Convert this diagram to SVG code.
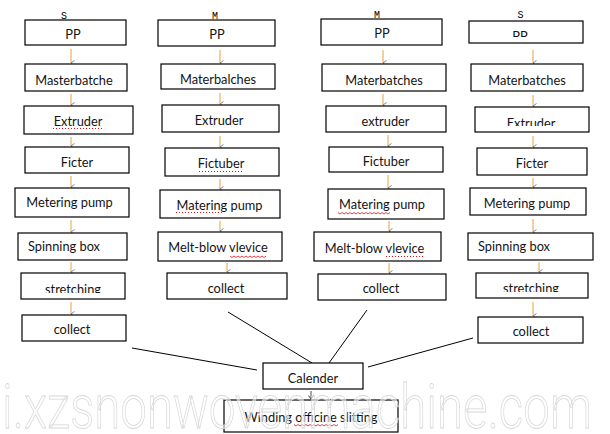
<svg xmlns="http://www.w3.org/2000/svg" width="610" height="434" viewBox="0 0 610 434">
<style>
.box{fill:#fff;stroke:#000;stroke-width:1.2}
.t{font-family:Lato,"Liberation Sans",sans-serif;font-size:12.8px;fill:#141414;text-anchor:middle}
.lab{font-family:"Liberation Mono",monospace;font-size:10px;fill:#000;text-anchor:middle}
.arr{stroke:#E9A13F;stroke-width:1;fill:none}
.con{stroke:#000;stroke-width:1;fill:none}
.dot{stroke:#e01010;stroke-width:1;stroke-dasharray:1 2;fill:none}
.wav{stroke:#e01010;stroke-width:0.8;fill:none}
.wm{font-family:Roboto,"Liberation Sans",sans-serif;font-weight:300;font-size:62px;fill:#fff;fill-opacity:0.55;stroke:#d6d6d6;stroke-width:0.8}
</style>
<defs>
<marker id="ah" viewBox="0 0 6 5" refX="3" refY="5" markerWidth="6" markerHeight="5" markerUnits="userSpaceOnUse" orient="auto-start-reverse">
<path d="M0.5,1.5 L3,5 L5.5,1.5" fill="none" stroke="#6b7a99" stroke-width="0.9"/>
</marker>
<marker id="ahk" viewBox="0 0 6 5" refX="3" refY="5" markerWidth="6" markerHeight="5" markerUnits="userSpaceOnUse">
<path d="M0.5,1.5 L3,5 L5.5,1.5" fill="none" stroke="#333" stroke-width="0.9"/>
</marker>
<clipPath id="c1"><rect x="0" y="0" width="610" height="293"/></clipPath>
<clipPath id="c2"><rect x="0" y="0" width="610" height="292"/></clipPath>
<clipPath id="c3"><rect x="0" y="0" width="610" height="37"/></clipPath>
<clipPath id="c4"><rect x="0" y="0" width="610" height="126"/></clipPath>
</defs>

<g id="labels">
<text class="lab" x="64" y="19">S</text>
<text class="lab" x="215" y="19">M</text>
<text class="lab" x="377" y="18">M</text>
<text class="lab" x="520.5" y="18">S</text>
</g>

<g id="connectors">
<line class="arr" x1="71" y1="49" x2="71" y2="63" marker-end="url(#ah)"/>
<line class="arr" x1="71" y1="94" x2="71" y2="105" marker-end="url(#ah)"/>
<line class="arr" x1="71" y1="137" x2="71" y2="146" marker-end="url(#ah)"/>
<line class="arr" x1="71" y1="176" x2="71" y2="187" marker-end="url(#ah)"/>
<line class="arr" x1="71" y1="220" x2="71" y2="232" marker-end="url(#ah)"/>
<line class="arr" x1="71" y1="262" x2="71" y2="272" marker-end="url(#ah)"/>
<line class="arr" x1="71" y1="302" x2="71" y2="314" marker-end="url(#ah)"/>

<line class="arr" x1="220" y1="50" x2="220" y2="63" marker-end="url(#ah)"/>
<line class="arr" x1="220" y1="93" x2="220" y2="104" marker-end="url(#ah)"/>
<line class="arr" x1="220" y1="136" x2="220" y2="147" marker-end="url(#ah)"/>
<line class="arr" x1="220" y1="179" x2="220" y2="189" marker-end="url(#ah)"/>
<line class="arr" x1="220" y1="221" x2="220" y2="231" marker-end="url(#ah)"/>
<line class="arr" x1="227" y1="263" x2="227" y2="272" marker-end="url(#ah)"/>

<line class="arr" x1="383" y1="50" x2="383" y2="63" marker-end="url(#ah)"/>
<line class="arr" x1="383" y1="94" x2="383" y2="105" marker-end="url(#ah)"/>
<line class="arr" x1="388" y1="135" x2="388" y2="146" marker-end="url(#ah)"/>
<line class="arr" x1="388" y1="175" x2="388" y2="188" marker-end="url(#ah)"/>
<line class="arr" x1="389" y1="221" x2="389" y2="231" marker-end="url(#ah)"/>
<line class="arr" x1="389" y1="263" x2="389" y2="273" marker-end="url(#ah)"/>

<line class="arr" x1="533" y1="50" x2="533" y2="63" marker-end="url(#ah)"/>
<line class="arr" x1="533" y1="95" x2="533" y2="106" marker-end="url(#ah)"/>
<line class="arr" x1="533" y1="136" x2="533" y2="147" marker-end="url(#ah)"/>
<line class="arr" x1="533" y1="178" x2="533" y2="187" marker-end="url(#ah)"/>
<line class="arr" x1="533" y1="219" x2="533" y2="232" marker-end="url(#ah)"/>
<line class="arr" x1="539" y1="262" x2="539" y2="272" marker-end="url(#ah)"/>
<line class="arr" x1="533" y1="302" x2="533" y2="316" marker-end="url(#ah)"/>

<line class="con" x1="132" y1="348" x2="257" y2="370"/>
<line class="con" x1="228" y1="312" x2="312" y2="363"/>
<line class="con" x1="367" y1="310" x2="329" y2="363"/>
<line class="con" x1="473" y1="338" x2="368" y2="367"/>
<line stroke="#333" stroke-width="0.9" x1="311" y1="391" x2="311" y2="399" marker-end="url(#ahk)"/>
</g>

<g id="s1-pp"><rect class="box" x="25" y="20" width="101" height="25"/><text class="t" x="73" y="39">PP</text></g>
<g id="s1-master"><rect class="box" x="25" y="64" width="102" height="27"/><text class="t" x="74" y="85">Masterbatche</text></g>
<g id="s1-extruder"><rect class="box" x="24" y="106" width="109" height="28"/><text class="t" x="78" y="126">Extruder</text><line class="dot" x1="53" y1="128.5" x2="103" y2="128.5"/></g>
<g id="s1-ficter"><rect class="box" x="25" y="147" width="104" height="26"/><text class="t" x="77" y="167">Ficter</text></g>
<g id="s1-pump"><rect class="box" x="15" y="188" width="114" height="29"/><text class="t" x="69.5" y="207">Metering pump</text></g>
<g id="s1-spin"><rect class="box" x="18" y="233" width="109" height="27"/><text class="t" x="64" y="251">Spinning box</text></g>
<g id="s1-stretch"><rect class="box" x="21" y="273" width="104" height="26"/><text class="t" x="73" y="294" clip-path="url(#c1)">stretching</text></g>
<g id="s1-collect"><rect class="box" x="22" y="315" width="104" height="26"/><text class="t" x="72" y="334">collect</text></g>

<g id="m1-pp"><rect class="box" x="158" y="20" width="117" height="26"/><text class="t" x="217" y="39">PP</text></g>
<g id="m1-master"><rect class="box" x="161" y="64" width="114" height="25"/><text class="t" x="218" y="84">Materbalches</text></g>
<g id="m1-extruder"><rect class="box" x="162" y="105" width="117" height="27"/><text class="t" x="219" y="125">Extruder</text></g>
<g id="m1-fictuber"><rect class="box" x="165" y="148" width="114" height="28"/><text class="t" x="221" y="168">Fictuber</text><line class="dot" x1="199" y1="171.5" x2="243" y2="171.5"/></g>
<g id="m1-pump"><rect class="box" x="160" y="190" width="120" height="28"/><text class="t" x="219.5" y="210">Matering pump</text><line class="dot" x1="176" y1="212.5" x2="224" y2="212.5"/></g>
<g id="m1-melt"><rect class="box" x="158" y="232" width="124" height="29"/><text class="t" x="218" y="252">Melt-blow vlevice</text><path class="wav" d="M230,256 l2,1.5 l2,-1.5 l2,1.5 l2,-1.5 l2,1.5 l2,-1.5 l2,1.5 l2,-1.5 l2,1.5 l2,-1.5 l2,1.5 l2,-1.5 l2,1.5 l2,-1.5 l2,1.5 l2,-1.5 l2,1.5 l2,-1.5"/></g>
<g id="m1-collect"><rect class="box" x="167" y="273" width="120" height="26"/><text class="t" x="226" y="293">collect</text></g>

<g id="m2-pp"><rect class="box" x="321" y="19" width="121" height="26"/><text class="t" x="382" y="38">PP</text></g>
<g id="m2-master"><rect class="box" x="322" y="64" width="124" height="27"/><text class="t" x="384" y="85">Materbatches</text></g>
<g id="m2-extruder"><rect class="box" x="326" y="106" width="120" height="26"/><text class="t" x="385.5" y="126">extruder</text></g>
<g id="m2-fictuber"><rect class="box" x="329" y="147" width="114" height="25"/><text class="t" x="386" y="166">Fictuber</text></g>
<g id="m2-pump"><rect class="box" x="328" y="189" width="116" height="30"/><text class="t" x="382" y="209">Matering pump</text><path class="wav" d="M338,212.5 l2,1.5 l2,-1.5 l2,1.5 l2,-1.5 l2,1.5 l2,-1.5 l2,1.5 l2,-1.5 l2,1.5 l2,-1.5 l2,1.5 l2,-1.5 l2,1.5 l2,-1.5 l2,1.5 l2,-1.5 l2,1.5 l2,-1.5 l2,1.5 l2,-1.5 l2,1.5 l2,-1.5 l2,1.5 l2,-1.5 l2,1.5 l2,-1.5"/></g>
<g id="m2-melt"><rect class="box" x="314" y="232" width="127" height="29"/><text class="t" x="374.5" y="253">Melt-blow vlevice</text><line class="dot" x1="386" y1="256.5" x2="424" y2="256.5"/></g>
<g id="m2-collect"><rect class="box" x="318" y="274" width="128" height="26"/><text class="t" x="381" y="293">collect</text></g>

<g id="s2-pp"><rect class="box" x="469" y="21" width="114" height="22"/><text class="t" x="520" y="41" clip-path="url(#c3)">PP</text></g>
<g id="s2-master"><rect class="box" x="471" y="64" width="112" height="27"/><text class="t" x="527" y="85">Materbatches</text></g>
<g id="s2-extruder"><rect class="box" x="475" y="107" width="114" height="25"/><text class="t" x="531" y="127.5" clip-path="url(#c4)">Extruder</text></g>
<g id="s2-ficter"><rect class="box" x="477" y="148" width="110" height="27"/><text class="t" x="532" y="168">Ficter</text></g>
<g id="s2-pump"><rect class="box" x="470" y="188" width="116" height="27"/><text class="t" x="527" y="208">Metering pump</text></g>
<g id="s2-spin"><rect class="box" x="468" y="233" width="125" height="27"/><text class="t" x="514" y="251">Spinning box</text></g>
<g id="s2-stretch"><rect class="box" x="476" y="273" width="112" height="25"/><text class="t" x="531" y="293" clip-path="url(#c2)">stretching</text></g>
<g id="s2-collect"><rect class="box" x="478" y="317" width="105" height="26"/><text class="t" x="531" y="336">collect</text></g>

<g id="calender"><rect class="box" x="263" y="363" width="100" height="26"/><text class="t" x="313" y="383">Calender</text></g>
<g id="winding"><rect class="box" x="224" y="400" width="174" height="32"/><text class="t" x="311" y="422">Winding officine slitting</text><path class="wav" d="M294,424.5 l2,1.5 l2,-1.5 l2,1.5 l2,-1.5 l2,1.5 l2,-1.5 l2,1.5 l2,-1.5 l2,1.5 l2,-1.5 l2,1.5 l2,-1.5 l2,1.5 l2,-1.5 l2,1.5 l2,-1.5 l2,1.5 l2,-1.5 l2,1.5 l2,-1.5 l2,1.5 l2,-1.5"/></g>

<g id="watermark"><text class="wm" x="2" y="428" textLength="590" lengthAdjust="spacingAndGlyphs">i.xzsnonwovenmachine.com</text></g>
</svg>
